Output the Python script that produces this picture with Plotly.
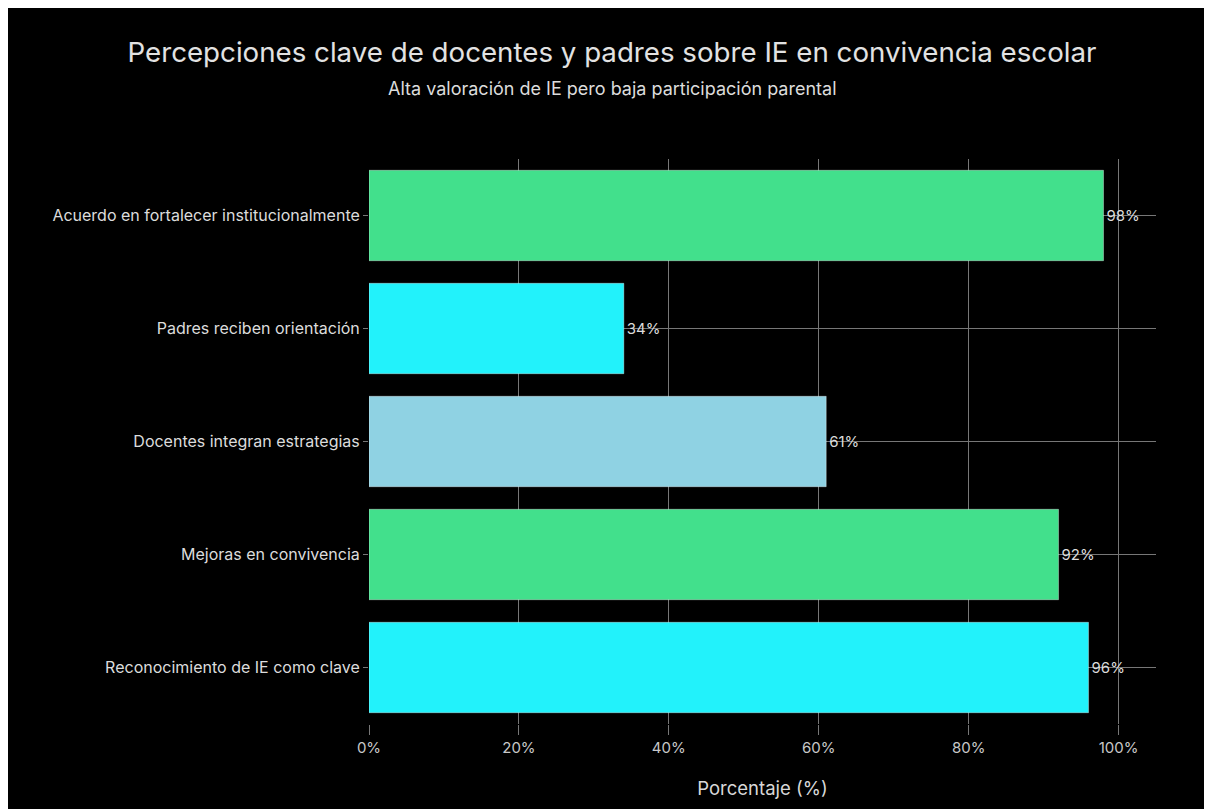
import plotly.graph_objects as go

categories = [
    "Acuerdo en fortalecer institucionalmente",
    "Padres reciben orientación",
    "Docentes integran estrategias",
    "Mejoras en convivencia",
    "Reconocimiento de IE como clave",
]
values = [98, 34, 61, 92, 96]
bar_colors = ["#42e08c", "#22f2fb", "#8fd2e3", "#42e08c", "#22f2fb"]
x_tickvals = [0, 20, 40, 60, 80, 100]
x_ticktext = ["0%", "20%", "40%", "60%", "80%", "100%"]

W, H = 1212, 809
L, R, T, B = 361, 64, 151, 93
plot_w = W - L - R
plot_h = H - T - B
CENTER = 604  # horizontal centre of the headings, in figure pixels

FONT = "Inter, Liberation Sans, Arial, sans-serif"
GRID = "#777777"

fig = go.Figure(
    go.Bar(
        y=categories,
        x=values,
        orientation="h",
        width=0.8,
        marker=dict(color=bar_colors, line=dict(color="rgba(255,255,255,0.35)", width=1)),
        text=[f"{v}%" for v in values],
        textposition="outside",
        textfont=dict(color="#dcdcdc", size=15, family=FONT),
        cliponaxis=False,
        hoverinfo="skip",
    )
)

fig.update_layout(
    width=W,
    height=H,
    margin=dict(l=L, r=R, t=T, b=B, pad=0),
    paper_bgcolor="#000000",
    plot_bgcolor="#000000",
    font=dict(family=FONT, color="#dcdcdc"),
    showlegend=False,
    bargap=0.2,
    title=dict(
        text="Percepciones clave de docentes y padres sobre IE en convivencia escolar",
        x=CENTER / W,
        xref="container",
        y=1 - 44 / H,
        yref="container",
        yanchor="middle",
        xanchor="center",
        font=dict(size=27.7, color="#e2e2e2", family=FONT),
    ),
    annotations=[
        dict(
            text="Alta valoración de IE pero baja participación parental",
            x=(CENTER - L) / plot_w,
            xref="paper",
            y=1 + (T - 80) / plot_h,
            yref="paper",
            xanchor="center",
            yanchor="middle",
            showarrow=False,
            font=dict(size=18, color="#dcdcdc", family=FONT),
        )
    ],
)

fig.update_xaxes(
    range=[0, 105],
    tickvals=x_tickvals,
    ticktext=x_ticktext,
    showgrid=True,
    gridcolor=GRID,
    gridwidth=1,
    zeroline=False,
    showline=False,
    ticks="outside",
    ticklen=10,
    tickcolor=GRID,
    tickfont=dict(size=15, color="#c8c8c8"),
    title=dict(text="Porcentaje (%)", font=dict(size=18.5, color="#d8d8d8"), standoff=26),
)

fig.update_yaxes(
    categoryorder="array",
    categoryarray=categories,
    autorange="reversed",
    showgrid=True,
    gridcolor=GRID,
    gridwidth=1,
    zeroline=False,
    showline=False,
    ticks="outside",
    ticklen=5,
    tickcolor=GRID,
    tickfont=dict(size=16, color="#dcdcdc"),
)

fig.write_html("out.html")
